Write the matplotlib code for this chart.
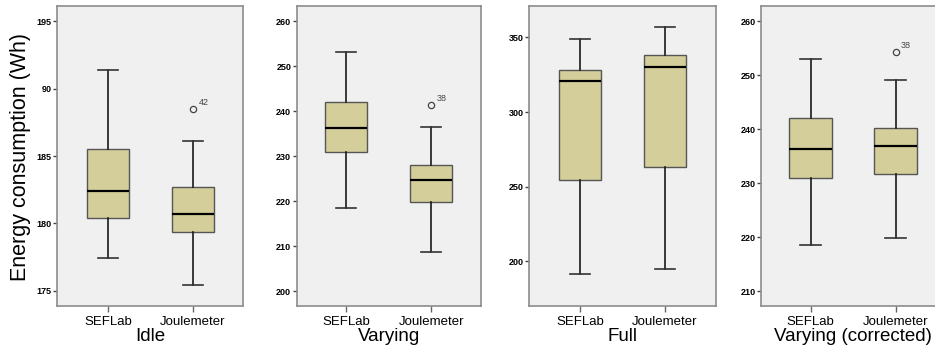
"""Energy consumption box plots: SEFLab vs Joulemeter."""

import matplotlib

matplotlib.use("Agg")
import matplotlib.pyplot as plt

plt.rcParams["font.family"] = ["Liberation Sans", "DejaVu Sans"]

groups = ["SEFLab", "Joulemeter"]
panel_titles = ["Idle", "Varying", "Full", "Varying (corrected)"]

# five-number summaries: whislo, q1, med, q3, whishi
idle_sef = [177.44, 180.41, 182.42, 185.50, 191.36]
idle_joule = [175.41, 179.32, 180.71, 182.71, 186.13]
varying_sef = [218.5, 230.9, 236.3, 242.0, 253.1]
varying_joule = [208.7, 219.9, 224.8, 228.0, 236.6]
full_sef = [191.5, 254.4, 320.5, 328.3, 348.9]
full_joule = [194.6, 262.9, 330.1, 338.4, 357.1]
corr_sef = [218.5, 230.9, 236.3, 242.1, 253.0]
corr_joule = [219.8, 231.7, 236.9, 240.2, 249.2]

# outliers (value, case label) per panel, for the Joulemeter box
idle_outliers = [(188.5, "42")]
varying_outliers = [(241.3, "38")]
full_outliers = []
corr_outliers = [(254.3, "38")]

idle_ticks = [175, 180, 185, 190, 195]
idle_ticklabels = ["175", "180", "185", "90", "195"]
varying_ticks = [200, 210, 220, 230, 240, 250, 260]
full_ticks = [200, 250, 300, 350]
corr_ticks = [210, 220, 230, 240, 250, 260]

panels = [
    (idle_sef, idle_joule, idle_outliers, idle_ticks, idle_ticklabels, (173.86, 196.14)),
    (varying_sef, varying_joule, varying_outliers, varying_ticks, None, (196.7, 263.4)),
    (full_sef, full_joule, full_outliers, full_ticks, None, (170.1, 371.0)),
    (corr_sef, corr_joule, corr_outliers, corr_ticks, None, (207.3, 262.8)),
]

# axes extents in pixels (left, right); top 6, bottom 306
W, H = 935, 354
extents = [(57.3, 243.3), (296.7, 480.7), (529, 715.7), (761, 945)]

fig = plt.figure(figsize=(W / 100, H / 100), dpi=100)
fig.patch.set_facecolor("white")

box_face = "#d4cf9a"


def _stats(vals, label, fliers):
    lo, q1, med, q3, hi = vals
    return {"label": label, "whislo": lo, "q1": q1, "med": med, "q3": q3, "whishi": hi, "fliers": fliers}


for (sef, joule, outs, ticks, ticklabels, ylim), title, (x0, x1) in zip(panels, panel_titles, extents):
    ax = fig.add_axes([x0 / W, 1 - 306 / H, (x1 - x0) / W, 300 / H])
    ax.set_facecolor("#f0f0f0")
    stats = [_stats(sef, groups[0], []), _stats(joule, groups[1], [v for v, _ in outs])]
    ax.bxp(
        stats,
        positions=[1, 2],
        widths=0.5,
        patch_artist=True,
        boxprops=dict(facecolor=box_face, edgecolor="#555555", linewidth=1.0),
        medianprops=dict(color="black", linewidth=1.6),
        whiskerprops=dict(color="#1a1a1a", linewidth=1.2),
        capprops=dict(color="#333333", linewidth=1.2),
        capwidths=0.24,
        flierprops=dict(marker="o", markersize=4.5, markerfacecolor="none",
                        markeredgecolor="#444444", markeredgewidth=0.9),
    )
    for v, lab in outs:
        ax.annotate(lab, (2, v), xytext=(4, 3), textcoords="offset points",
                    fontsize=6.5, color="#444444")
    span = (x1 - x0) / 85.0
    half = (span - 1) / 2
    ax.set_xlim(1 - half, 2 + half)
    ax.set_ylim(*ylim)
    ax.set_yticks(ticks)
    if ticklabels:
        ax.set_yticklabels(ticklabels)
    ax.tick_params(axis="y", length=3, width=1, color="#444444", labelsize=6.5, pad=1)
    for lbl in ax.get_yticklabels():
        lbl.set_fontweight("bold")
    ax.set_xticks([1, 2])
    ax.set_xticklabels(groups)
    ax.tick_params(axis="x", length=4, width=1, color="#666666", labelsize=9.5, pad=3)
    ax.set_xlabel(title, fontsize=13.5, labelpad=0.5)
    for sp in ax.spines.values():
        sp.set_color("#8c8c8c")
        sp.set_linewidth(1.2)

fig.text(21 / W, 1 - 157 / H, "Energy consumption (Wh)", rotation=90,
         fontsize=15.5, ha="center", va="center")

fig.savefig("out.png", dpi=100)
